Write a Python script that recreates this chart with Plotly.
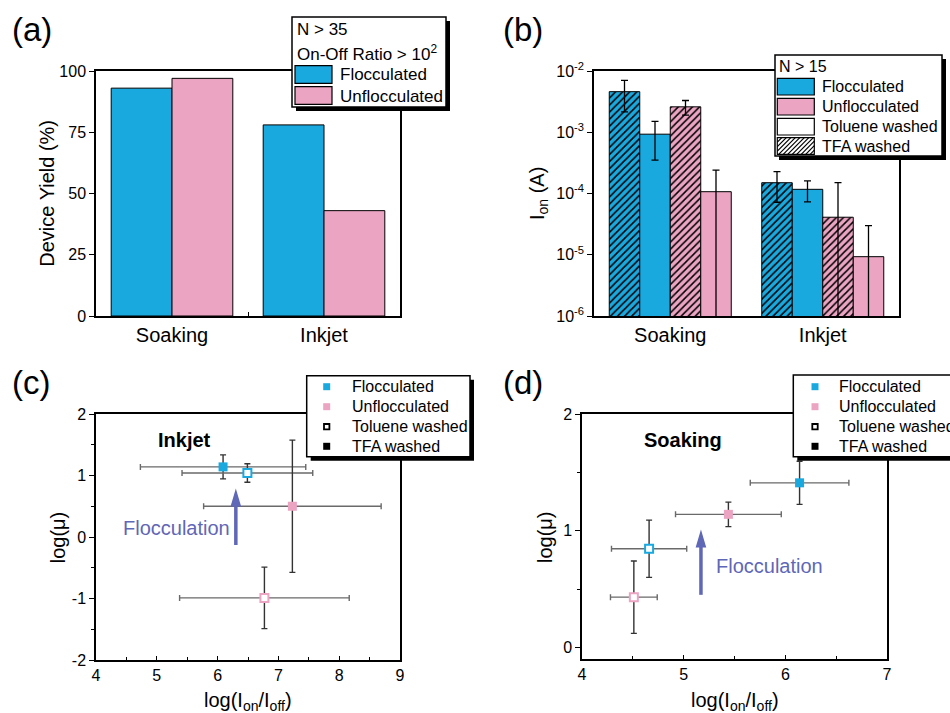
import plotly.graph_objects as go

W, H = 950, 713
def X(p): return p / W
def Y(p): return 1 - p / H

FONT = "Liberation Sans, Arial, sans-serif"
BLUE = "#19A9DF"
PINK = "#EBA4C2"
PURPLE = "#5F67B7"

# ---------------- data ----------------
categories = ["Soaking", "Inkjet"]
# (a) device yield (%)
yield_floc = [93, 78]
yield_unfloc = [97, 43]
# (b) I_on (A), mean and symmetric error
ion_tfa_floc = [4.6e-3, 1.5e-4]
ion_tfa_floc_err = [2.45e-3, 7.8e-5]
ion_tol_floc = [9.3e-4, 1.17e-4]
ion_tol_floc_err = [5.8e-4, 4.4e-5]
ion_tfa_unfloc = [2.6e-3, 4.1e-5]
ion_tfa_unfloc_err = [7.0e-4, 1.09e-4]
ion_tol_unfloc = [1.07e-4, 9.3e-6]
ion_tol_unfloc_err = [1.33e-4, 2.07e-5]
# (c)/(d) order: flocculated TFA, flocculated toluene, unflocculated TFA, unflocculated toluene
point_names = ["Flocculated, TFA washed", "Flocculated, toluene washed",
               "Unflocculated, TFA washed", "Unflocculated, toluene washed"]
inkjet_x = [6.09, 6.49, 7.23, 6.77]
inkjet_xerr = [1.36, 1.075, 1.46, 1.395]
inkjet_y = [1.14, 1.04, 0.50, -0.99]
inkjet_yerr = [0.195, 0.15, 1.075, 0.50]
soak_x = [6.14, 4.66, 5.44, 4.51]
soak_xerr = [0.485, 0.37, 0.52, 0.23]
soak_y = [1.41, 0.845, 1.14, 0.43]
soak_yerr = [0.185, 0.245, 0.105, 0.31]

point_colors = [BLUE, BLUE, PINK, PINK]
point_filled = [True, False, True, False]

fig = go.Figure()

# (a)
fig.add_trace(go.Bar(x=categories, y=yield_floc, name="Flocculated", xaxis="x", yaxis="y",
                     marker=dict(color=BLUE, line=dict(color="black", width=1))))
fig.add_trace(go.Bar(x=categories, y=yield_unfloc, name="Unflocculated", xaxis="x", yaxis="y",
                     marker=dict(color=PINK, line=dict(color="black", width=1))))

# (b)
def hatch(c):
    return dict(shape="/", fgcolor="black", bgcolor=c, size=5, solidity=0.3, fillmode="replace")

b_series = [
    (ion_tfa_floc, ion_tfa_floc_err, BLUE, True),
    (ion_tol_floc, ion_tol_floc_err, BLUE, False),
    (ion_tfa_unfloc, ion_tfa_unfloc_err, PINK, True),
    (ion_tol_unfloc, ion_tol_unfloc_err, PINK, False),
]
for vals, errs, col, hat in b_series:
    m = dict(color=col, line=dict(color="black", width=1))
    if hat:
        m["pattern"] = hatch(col)
    fig.add_trace(go.Bar(x=categories, y=vals, xaxis="x2", yaxis="y2", marker=m,
                         error_y=dict(type="data", array=errs, symmetric=True,
                                      color="black", thickness=1.3, width=3.5)))

# (c) & (d)
def add_points(xs, xe, ys, ye, xa, ya):
    for i in range(len(xs)):
        if point_filled[i]:
            mk = dict(symbol="square", size=9, color=point_colors[i], line=dict(width=0))
        else:
            mk = dict(symbol="square", size=8, color="white",
                      line=dict(color=point_colors[i], width=2))
        fig.add_trace(go.Scatter(
            x=[xs[i]], y=[ys[i]], mode="markers", name=point_names[i],
            xaxis=xa, yaxis=ya, marker=mk,
            error_x=dict(type="data", array=[xe[i]], color="#6a6a6a", thickness=1.4, width=3),
            error_y=dict(type="data", array=[ye[i]], color="#333333", thickness=1.4, width=3)))

add_points(inkjet_x, inkjet_xerr, inkjet_y, inkjet_yerr, "x3", "y3")
add_points(soak_x, soak_xerr, soak_y, soak_yerr, "x4", "y4")

# ---------------- axes ----------------
tickfont = dict(family=FONT, size=16, color="black")
common = dict(showline=True, linecolor="black", linewidth=1.5, mirror=True,
              showgrid=False, zeroline=False, ticks="outside", ticklen=5,
              tickwidth=1.3, tickcolor="black", tickfont=tickfont)

catfont = dict(family=FONT, size=20, color="black")
xminor = dict(dtick=0.5, tick0=4, ticks="inside", ticklen=3, tickcolor="black")
yminor = dict(dtick=0.5, tick0=0, ticks="outside", ticklen=3, tickcolor="black")

layout = dict(
    width=W, height=H, margin=dict(l=0, r=0, t=0, b=0, autoexpand=False),
    paper_bgcolor="white", plot_bgcolor="white", showlegend=False,
    barmode="group", bargap=0.2, bargroupgap=0,
    font=dict(family=FONT, color="black"),
    xaxis=dict(common, domain=[X(96), X(400)], anchor="y", tickson="boundaries",
               ticks="inside", ticklen=4, tickfont=catfont, range=[-0.5, 1.5]),
    yaxis=dict(common, domain=[Y(316), Y(71)], anchor="x", range=[0, 100],
               tickvals=[0, 25, 50, 75, 100]),
    xaxis2=dict(common, domain=[X(594), X(899)], anchor="y2", ticks="",
                tickfont=catfont, range=[-0.5, 1.5]),
    yaxis2=dict(common, domain=[Y(316), Y(71)], anchor="x2", type="log", range=[-6, -2],
                tickvals=[1e-6, 1e-5, 1e-4, 1e-3, 1e-2],
                ticktext=["10<sup>-6</sup>", "10<sup>-5</sup>", "10<sup>-4</sup>",
                          "10<sup>-3</sup>", "10<sup>-2</sup>"]),
    xaxis3=dict(common, domain=[X(96), X(400)], anchor="y3", range=[4, 9],
                tickvals=[4, 5, 6, 7, 8, 9], ticks="inside", ticklen=4, minor=xminor),
    yaxis3=dict(common, domain=[Y(660), Y(414)], anchor="x3", range=[-2, 2],
                tickvals=[-2, -1, 0, 1, 2], ticktext=["-2", "-1", "0", "1", "2"],
                minor=yminor),
    xaxis4=dict(common, domain=[X(582), X(887)], anchor="y4", range=[4, 7],
                tickvals=[4, 5, 6, 7], ticks="inside", ticklen=4, minor=xminor),
    yaxis4=dict(common, domain=[Y(659), Y(414)], anchor="x4", range=[-0.1, 2],
                tickvals=[0, 1, 2], minor=yminor),
)
fig.update_layout(**layout)

# ---------------- decorations ----------------
shapes = []
annots = []

def ptext(txt, x, y, size, anchor="left", angle=0, bold=False, color="black"):
    if bold:
        txt = "<b>" + txt + "</b>"
    annots.append(dict(text=txt, x=X(x), y=Y(y), xref="paper", yref="paper",
                       xanchor=anchor, yanchor="middle", showarrow=False, textangle=angle,
                       font=dict(family=FONT, size=size, color=color)))

def rect(x0, y0, x1, y1, fill, lw=0, lc="black"):
    shapes.append(dict(type="rect", xref="paper", yref="paper", layer="above",
                       x0=X(x0), x1=X(x1), y0=Y(y1), y1=Y(y0), fillcolor=fill,
                       line=dict(width=lw, color=lc)))

def lbox(x0, y0, x1, y1):
    rect(x0 + 4, y0 + 4, x1 + 4, y1 + 4, "black")
    rect(x0, y0, x1, y1, "white", 1.5)

def hatch_swatch(x0, y0, x1, y1, step=4.5):
    rect(x0, y0, x1, y1, "white", 1.2)
    c = x0 + y0 + step
    while c < x1 + y1:
        xa = max(x0, c - y1)
        xb = min(x1, c - y0)
        if xb > xa:
            shapes.append(dict(type="line", xref="paper", yref="paper", layer="above",
                               x0=X(xa), y0=Y(c - xa), x1=X(xb), y1=Y(c - xb),
                               line=dict(color="black", width=1.2)))
        c += step

# panel labels
for lab, x, y in [("(a)", 10, 30), ("(b)", 501, 30), ("(c)", 10, 382), ("(d)", 501, 382)]:
    ptext(lab, x, y, 33)

# axis titles
ptext("Device Yield (%)", 46.7, 193, 20, anchor="center", angle=-90)
ptext("I<sub>on</sub> (A)", 538, 194, 20, anchor="center", angle=-90)
ptext("log(μ)", 58.3, 537, 20, anchor="center", angle=-90)
ptext("log(μ)", 545, 537, 20, anchor="center", angle=-90)
ptext("log(I<sub>on</sub>/I<sub>off</sub>)", 248, 701, 20, anchor="center")
ptext("log(I<sub>on</sub>/I<sub>off</sub>)", 735, 701, 20, anchor="center")

# legend (a)
lbox(292, 17, 446, 107)
ptext("N > 35", 295, 30, 17)
ptext("On-Off Ratio > 10<sup>2</sup>", 295, 53, 17)
rect(295, 65.7, 332, 83.3, BLUE, 1.2)
rect(295, 86.7, 332, 104.3, PINK, 1.2)
ptext("Flocculated", 338, 75, 17)
ptext("Unflocculated", 338, 96, 17)

# legend (b)
lbox(775, 55, 942, 156)
ptext("N > 15", 777, 67, 16)
rect(777.3, 78.3, 814.3, 95, BLUE, 1.2)
rect(777.3, 98.3, 814.3, 115, PINK, 1.2)
rect(777.3, 118.3, 814.3, 135, "white", 1.2)
hatch_swatch(777.3, 137.7, 814.3, 154.3)
for t, yy in zip(["Flocculated", "Unflocculated", "Toluene washed", "TFA washed"],
                 [87, 107, 127, 146.5]):
    ptext(t, 820, yy, 16)

# legends (c) and (d)
def scatter_legend(x0, y0, x1, y1, mx, tx):
    lbox(x0, y0, x1, y1)
    rows = [386.7, 406.7, 426.7, 446.3]
    s = 3.5
    rect(mx - s, rows[0] - s, mx + s, rows[0] + s, BLUE)
    rect(mx - s, rows[1] - s, mx + s, rows[1] + s, PINK)
    rect(mx - s + 0.8, rows[2] - s + 0.8, mx + s - 0.8, rows[2] + s - 0.8, "white", 1.8)
    rect(mx - s, rows[3] - s, mx + s, rows[3] + s, "black")
    for t, yy in zip(["Flocculated", "Unflocculated", "Toluene washed", "TFA washed"], rows):
        ptext(t, tx, yy, 16)

scatter_legend(306.7, 375.7, 470, 456.7, 326.7, 350)
scatter_legend(793.3, 375, 965, 456.7, 815, 836.7)

# in-plot labels
annots.append(dict(text="<b>Inkjet</b>", x=5.45, y=1.58, xref="x3", yref="y3", showarrow=False,
                   font=dict(family=FONT, size=20, color="black")))
annots.append(dict(text="<b>Soaking</b>", x=4.99, y=1.776, xref="x4", yref="y4", showarrow=False,
                   font=dict(family=FONT, size=20, color="black")))
annots.append(dict(text="Flocculation", x=5.32, y=0.146, xref="x3", yref="y3", showarrow=False,
                   font=dict(family=FONT, size=20, color=PURPLE)))
annots.append(dict(text="Flocculation", x=5.84, y=0.70, xref="x4", yref="y4", showarrow=False,
                   font=dict(family=FONT, size=20, color=PURPLE)))

# arrows (shaft + head) in data coordinates
def arrow(xr, yr, x, ytail, ytip, hw, hl):
    shapes.append(dict(type="line", xref=xr, yref=yr, x0=x, x1=x, y0=ytail, y1=ytip - hl * 0.5,
                       line=dict(color=PURPLE, width=3.5), layer="above"))
    shapes.append(dict(type="path", xref=xr, yref=yr, layer="above",
                       path=f"M {x},{ytip} L {x - hw},{ytip - hl} L {x + hw},{ytip - hl} Z",
                       fillcolor=PURPLE, line=dict(width=0)))

# (c): 304 px per 5 units on x, 246 px per 4 units on y
arrow("x3", "y3", 6.30, -0.13, 0.79, 5.3 / 304 * 5, 18 / 246 * 4)
# (d): 101.7 px per unit on x, 116.7 px per unit on y
arrow("x4", "y4", 5.17, 0.45, 1.01, 5.3 / 101.7, 18 / 116.7)

fig.update_layout(shapes=shapes, annotations=annots)
fig.write_html("out.html", config={"displayModeBar": False},
               post_script="document.body.style.margin='0px';document.body.style.overflow='hidden';")
